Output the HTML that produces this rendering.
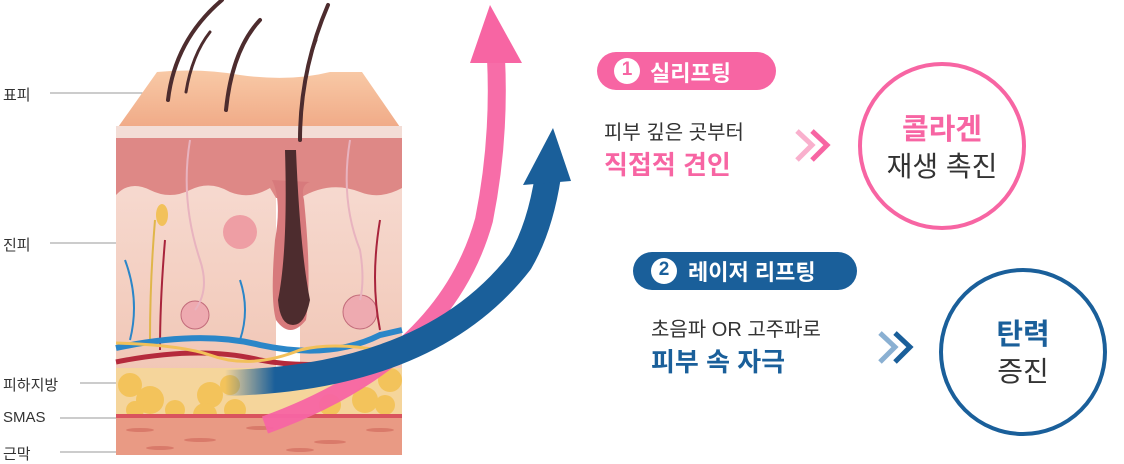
<!DOCTYPE html>
<html><head><meta charset="utf-8"><style>
body{margin:0;background:#fff;width:1124px;height:460px;overflow:hidden;position:relative;font-family:"Liberation Sans","Noto Sans CJK KR",sans-serif}
.t{position:absolute;white-space:nowrap}
</style></head><body>
<svg width="1124" height="460" style="position:absolute;left:0;top:0">
<defs>
<linearGradient id="epi" x1="0" y1="0" x2="0" y2="1"><stop offset="0" stop-color="#f8c9a6"/><stop offset="1" stop-color="#f0a986"/></linearGradient>
<linearGradient id="der" x1="0" y1="0" x2="0" y2="1"><stop offset="0" stop-color="#f6d9cf"/><stop offset="1" stop-color="#f1c6b5"/></linearGradient>
<linearGradient id="bfade" gradientUnits="userSpaceOnUse" x1="225" y1="0" x2="275" y2="0"><stop offset="0" stop-color="#1a5f9a" stop-opacity="0"/><stop offset="1" stop-color="#1a5f9a" stop-opacity="1"/></linearGradient>
</defs>
<g stroke="#999" stroke-width="1">
<line x1="50" y1="93" x2="150" y2="93"/><line x1="50" y1="243" x2="125" y2="243"/>
<line x1="80" y1="383" x2="123" y2="383"/><line x1="60" y1="418" x2="125" y2="418"/>
<line x1="60" y1="452" x2="125" y2="452"/>
</g>
<path d="M157,72 Q200,68 240,75 Q290,82 330,72 L362,72 L402,130 L116,130 Z" fill="url(#epi)"/>
<rect x="116" y="126" width="286" height="12" fill="#f3ddd6"/>
<rect x="116" y="138" width="286" height="60" fill="#de8886"/>
<path d="M116,195 Q130,180 150,190 Q170,200 190,190 Q210,180 230,192 Q250,200 270,188 L276,198 L276,380 L116,380 Z" fill="url(#der)"/>
<path d="M300,198 Q330,180 360,192 Q380,200 402,188 L402,380 L300,380 Z" fill="url(#der)"/>
<path d="M272,180 Q282,200 275,240 Q270,300 276,320 Q290,340 306,320 Q312,280 304,200 Q300,185 310,182 Z" fill="#d77a7c"/>
<path d="M285,150 L296,150 Q300,250 310,300 Q305,325 293,325 Q280,325 278,300 Q288,250 285,150Z" fill="#4d2c2e"/>
<g stroke="#4d2c2e" stroke-linecap="round" fill="none">
<path d="M168,100 Q175,40 222,0" stroke-width="4"/>
<path d="M186,92 Q192,55 210,32" stroke-width="3"/>
<path d="M226,110 Q232,50 260,20" stroke-width="4"/>
<path d="M300,140 Q300,70 328,5" stroke-width="4"/>
<path d="M302,105 Q306,65 316,40" stroke-width="3"/>
</g>
<circle cx="240" cy="232" r="17" fill="#ee9ea4"/>
<circle cx="195" cy="315" r="14" fill="#eeaab0" stroke="#c26b7a"/>
<circle cx="360" cy="312" r="17" fill="#eeaab0" stroke="#c26b7a"/>
<ellipse cx="162" cy="215" rx="6" ry="11" fill="#f2c15a"/>
<g fill="none" stroke-width="2">
<path d="M190,140 Q180,200 200,260 Q210,290 195,310" stroke="#e8b3bf"/>
<path d="M350,140 Q340,200 360,250 Q365,280 360,300" stroke="#e8b3bf"/>
<path d="M125,260 Q140,300 130,340" stroke="#2b86c8"/>
<path d="M240,280 Q250,310 240,340" stroke="#2b86c8"/>
<path d="M155,220 Q150,280 150,340" stroke="#e0b64a"/>
<path d="M165,240 Q160,300 160,350" stroke="#a8243c"/>
<path d="M380,220 Q370,280 380,330" stroke="#a8243c"/>
</g>
<rect x="116" y="368" width="286" height="50" fill="#f5d59b"/>
<g fill="#f3c35b">
<circle cx="130" cy="385" r="12"/><circle cx="150" cy="400" r="14"/><circle cx="175" cy="410" r="10"/><circle cx="135" cy="410" r="9"/>
<circle cx="210" cy="395" r="13"/><circle cx="205" cy="415" r="12"/><circle cx="230" cy="385" r="10"/><circle cx="235" cy="410" r="11"/>
<circle cx="330" cy="405" r="11"/><circle cx="365" cy="400" r="13"/><circle cx="390" cy="380" r="12"/><circle cx="385" cy="405" r="10"/>
</g>
<path d="M116,348 Q200,330 260,345 Q330,360 380,335 L402,330" stroke="#2b86c8" stroke-width="6" fill="none"/>
<path d="M116,362 Q200,345 260,360 Q320,372 402,352" stroke="#b52a3c" stroke-width="5" fill="none"/>
<path d="M116,343 Q180,345 210,355 Q250,370 300,350 Q340,340 402,355" stroke="#f2c05a" stroke-width="3" fill="none"/>
<rect x="116" y="414" width="286" height="4" fill="#d9545e"/>
<rect x="116" y="418" width="286" height="37" fill="#e99a84"/>
<g fill="#d97a6a"><ellipse cx="140" cy="430" rx="14" ry="2"/><ellipse cx="200" cy="440" rx="16" ry="2"/><ellipse cx="260" cy="428" rx="14" ry="2"/><ellipse cx="330" cy="442" rx="16" ry="2"/><ellipse cx="380" cy="430" rx="14" ry="2"/><ellipse cx="160" cy="448" rx="14" ry="2"/><ellipse cx="300" cy="450" rx="14" ry="2"/></g>
<!-- pink arrow -->
<path d="M265,425 Q445,360 484,220 Q500,140 496,58" stroke="#f765a3" stroke-width="18" fill="none" opacity="0.95"/>
<polygon points="490,5 470,63 522,63" fill="#f765a3"/>
<!-- blue arrow -->
<path d="M225,383 Q430,378 520,262 Q540,228 548,176" stroke="url(#bfade)" stroke-width="26" fill="none"/>
<polygon points="553,128 523,185 571,181" fill="#1a5f9a"/>
<!-- right side -->
<rect x="597" y="52" width="179" height="38" rx="19" fill="#f765a3"/>
<circle cx="627" cy="71" r="13" fill="#fff"/>
<rect x="633" y="252" width="224" height="38" rx="19" fill="#1a5f9a"/>
<circle cx="664" cy="271" r="13" fill="#fff"/>
<path d="M797,131 L812,145 L797,160" stroke="#f9b0cd" stroke-width="5" fill="none"/>
<path d="M812,131 L827,145 L812,160" stroke="#f765a3" stroke-width="5" fill="none"/>
<path d="M880,333 L895,347 L880,362" stroke="#8ab0d2" stroke-width="5" fill="none"/>
<path d="M895,333 L910,347 L895,362" stroke="#1a5f9a" stroke-width="5" fill="none"/>
<circle cx="942" cy="146" r="82" fill="none" stroke="#f765a3" stroke-width="4"/>
<circle cx="1023" cy="352" r="82" fill="none" stroke="#1a5f9a" stroke-width="4"/>
</svg>
<div class="t" style="left:3px;top:84px;font-size:15px;color:#333">표피</div>
<div class="t" style="left:3px;top:234px;font-size:15px;color:#333">진피</div>
<div class="t" style="left:3px;top:374px;font-size:15px;color:#333">피하지방</div>
<div class="t" style="left:3px;top:409px;font-size:15px;color:#333">SMAS</div>
<div class="t" style="left:3px;top:443px;font-size:15px;color:#333">근막</div>
<div class="t" style="left:619px;top:59px;font-size:19px;font-weight:bold;color:#f765a3;width:16px;text-align:center">1</div>
<div class="t" style="left:650px;top:56px;font-size:22px;font-weight:bold;color:#fff">실리프팅</div>
<div class="t" style="left:604px;top:116px;font-size:20px;color:#333">피부 깊은 곳부터</div>
<div class="t" style="left:604px;top:145px;font-size:26px;font-weight:bold;color:#f765a3">직접적 견인</div>
<div class="t" style="left:856px;top:106px;width:172px;text-align:center;font-size:29px;font-weight:bold;color:#f765a3">콜라겐</div>
<div class="t" style="left:856px;top:145px;width:172px;text-align:center;font-size:28px;color:#333">재생 촉진</div>
<div class="t" style="left:656px;top:259px;font-size:19px;font-weight:bold;color:#1a5f9a;width:16px;text-align:center">2</div>
<div class="t" style="left:688px;top:255px;font-size:22px;font-weight:bold;color:#fff">레이저 리프팅</div>
<div class="t" style="left:651px;top:313px;font-size:20px;color:#333">초음파 OR 고주파로</div>
<div class="t" style="left:651px;top:342px;font-size:26px;font-weight:bold;color:#1a5f9a">피부 속 자극</div>
<div class="t" style="left:940px;top:311px;width:166px;text-align:center;font-size:29px;font-weight:bold;color:#1a5f9a">탄력</div>
<div class="t" style="left:940px;top:350px;width:166px;text-align:center;font-size:28px;color:#333">증진</div>
</body></html>
